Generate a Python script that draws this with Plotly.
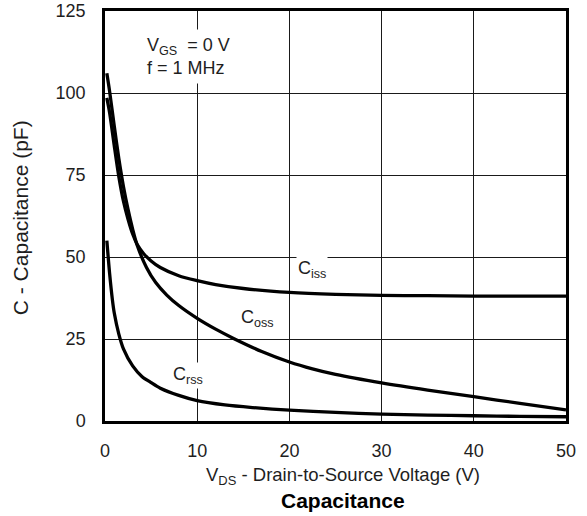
import plotly.graph_objects as go

# Capacitance vs drain-to-source voltage (VGS = 0 V, f = 1 MHz)
v_ciss = [0.2, 0.5, 1.0, 1.5, 2.0, 2.5, 3.0, 3.5, 4.2, 5.0, 6.0, 8.0, 10, 12, 15, 20, 25, 30, 35, 40, 45, 50]
c_ciss = [98.5, 94, 84, 74.5, 67, 61.5, 57, 53.8, 51, 48.8, 46.8, 44.3, 42.8, 41.6, 40.4, 39.2, 38.6, 38.3, 38.2, 38.1, 38.1, 38.1]

v_coss = [0.2, 0.5, 1.0, 1.5, 2.0, 2.5, 3.0, 3.5, 4.5, 5.5, 6.7, 8.0, 10, 12, 14, 17, 20, 22.5, 25, 30, 35, 40, 45, 50]
c_coss = [106, 100.5, 90, 80, 71.5, 64.5, 58.5, 53.5, 46.8, 42.2, 38.4, 35.2, 31.3, 28.0, 25.1, 21.2, 18.0, 15.9, 14.2, 11.6, 9.4, 7.4, 5.4, 3.4]

v_crss = [0.2, 0.5, 0.8, 1.0, 1.5, 2.0, 3.0, 4.0, 5.0, 6.0, 8.0, 10, 13, 16, 20, 25, 30, 35, 40, 45, 50]
c_crss = [55, 45, 37, 33, 26.5, 22, 16.8, 13.6, 11.7, 10.0, 7.8, 6.2, 4.9, 4.1, 3.3, 2.6, 2.1, 1.8, 1.6, 1.4, 1.3]

x_ticks = [0, 10, 20, 30, 40, 50]
y_ticks = [0, 25, 50, 75, 100, 125]

FONT = "Liberation Sans, Arial, sans-serif"
INK = "#1e1e1e"

fig = go.Figure()
for xs, ys in [(v_ciss, c_ciss), (v_coss, c_coss), (v_crss, c_crss)]:
    fig.add_trace(go.Scatter(
        x=xs, y=ys, mode="lines",
        line=dict(color="black", width=3.3, shape="spline", smoothing=0.8),
        showlegend=False, hoverinfo="skip",
    ))

axis_common = dict(
    showgrid=True, gridcolor="#1a1a1a", gridwidth=1.1,
    showline=True, linecolor="black", linewidth=2.5, mirror=True,
    zeroline=False, ticks="", automargin=False,
    tickfont=dict(family=FONT, size=18, color=INK),
)

fig.update_xaxes(range=[0, 50], tickvals=x_ticks, ticklabelstandoff=12, **axis_common)
fig.update_yaxes(range=[0, 125], tickvals=y_ticks, ticklabelstandoff=13, **axis_common)

label_font = dict(family=FONT, size=18, color=INK)
annotations = [
    dict(x=0.078, y=0.955, xref="paper", yref="paper", xanchor="left", yanchor="top",
         text="V<sub>GS</sub>  = 0 V<br>f = 1 MHz", align="left", showarrow=False,
         font=label_font, bgcolor="white", borderpad=5),
    dict(x=22.5, y=46.2, text="C<sub>iss</sub>", showarrow=False,
         font=label_font, bgcolor="white", borderpad=1),
    dict(x=16.5, y=31.4, text="C<sub>oss</sub>", showarrow=False,
         font=label_font, bgcolor="white", borderpad=1),
    dict(x=9.0, y=13.8, text="C<sub>rss</sub>", showarrow=False,
         font=label_font, bgcolor="white", borderpad=1),
    dict(x=0.516, y=-0.135, xref="paper", yref="paper", xanchor="center", yanchor="middle",
         text="V<sub>DS</sub> - Drain-to-Source Voltage (V)", showarrow=False,
         font=dict(family=FONT, size=18.5, color=INK)),
    dict(x=0.516, y=-0.193, xref="paper", yref="paper", xanchor="center", yanchor="middle",
         text="<b>Capacitance</b>", showarrow=False,
         font=dict(family=FONT, size=21, color="black")),
    dict(x=-0.184, y=0.495, xref="paper", yref="paper", xanchor="center", yanchor="middle",
         text="C - Capacitance (pF)", textangle=-90, showarrow=False,
         font=dict(family=FONT, size=21, color=INK)),
]

fig.update_layout(
    width=587, height=516,
    margin=dict(l=105, r=21, t=11, b=95),
    paper_bgcolor="white", plot_bgcolor="white",
    annotations=annotations,
)

fig.write_html("out.html")
